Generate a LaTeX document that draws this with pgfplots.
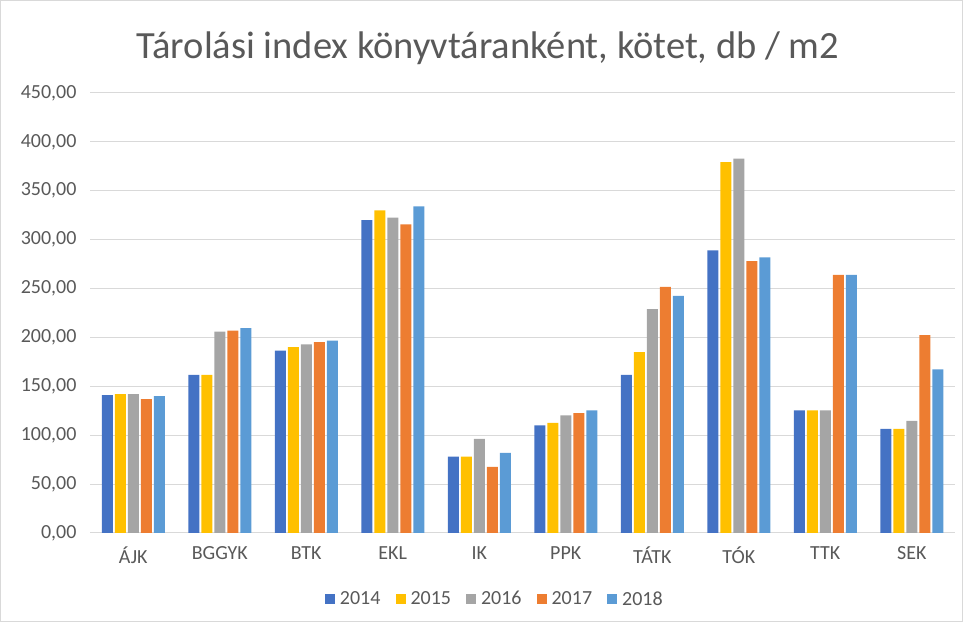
\documentclass[border=0pt]{standalone}
\usepackage{pgfplots}
\pgfplotsset{compat=1.18}
\usepackage{fontspec}
\setmainfont{Carlito}
\definecolor{c14}{HTML}{4472C4}
\definecolor{c15}{HTML}{FFC000}
\definecolor{c16}{HTML}{A5A5A5}
\definecolor{c17}{HTML}{ED7D31}
\definecolor{c18}{HTML}{5B9BD5}
\definecolor{txt}{HTML}{595959}
\definecolor{grd}{HTML}{D9D9D9}
\begin{document}
\begin{tikzpicture}
\useasboundingbox (0,0) rectangle (966pt,626pt);
\draw[grd, line width=1pt] (0.5pt,4pt) rectangle (962pt,625.5pt);
\node[text=txt, font=\fontsize{38.5}{44}\selectfont] at (488pt,578pt) {Tárolási index könyvtáranként, kötet, db / m2};
\begin{axis}[
  at={(90pt,93pt)}, anchor=south west,
  scale only axis, width=865pt, height=440pt,
  ymin=0, ymax=450, ytick={0,50,...,450},
  xmin=-0.5, xmax=9.5,
  xtick={0,...,9},
  xticklabels={ÁJK,BGGYK,BTK,EKL,IK,PPK,TÁTK,TÓK,TTK,SEK},
  ybar=2pt, bar width=11pt,
  axis x line*=bottom, axis y line*=left,
  x axis line style={grd, line width=1pt, -},
  y axis line style={draw=none},
  ymajorgrids, grid style={grd, line width=1pt},
  major tick length=0pt,
  tick label style={text=txt, font=\fontsize{20}{24}\selectfont},
  xticklabel style={yshift=-10pt},
  yticklabel style={xshift=-10pt},
  /pgf/number format/.cd, fixed, fixed zerofill, precision=2, use comma, assume math mode=true,
  /pgfplots/.cd,
  legend columns=5,
  legend style={draw=none, fill=none, at={(0.468,-0.15)}, anchor=center,
    font=\fontsize{20}{24}\selectfont, text=txt,
    /tikz/every odd column/.append style={column sep=3pt},
    /tikz/every even column/.append style={column sep=13pt}},
  legend image code/.code={\fill[#1] (0pt,-5pt) rectangle (10pt,5pt);},
]
\addplot[fill=c14, draw=none] coordinates {(0,141) (1,161.6) (2,186.5) (3,320) (4,78.2) (5,110) (6,161.6) (7,289) (8,125.5) (9,106.5)};
\addplot[fill=c15, draw=none] coordinates {(0,142) (1,161.6) (2,190) (3,330) (4,78.2) (5,112.5) (6,185) (7,379.4) (8,125.5) (9,106.5)};
\addplot[fill=c16, draw=none] coordinates {(0,142) (1,206) (2,193) (3,322.5) (4,96.3) (5,120.3) (6,229) (7,383) (8,125.5) (9,114.6)};
\addplot[fill=c17, draw=none] coordinates {(0,137) (1,207) (2,195.3) (3,315.7) (4,67.7) (5,122.7) (6,251.6) (7,278) (8,264) (9,202.4)};
\addplot[fill=c18, draw=none] coordinates {(0,140) (1,209.6) (2,196.7) (3,334) (4,82) (5,125.5) (6,242.4) (7,282) (8,264) (9,167.3)};
\legend{2014,2015,2016,2017,2018}
\end{axis}
\end{tikzpicture}
\end{document}
